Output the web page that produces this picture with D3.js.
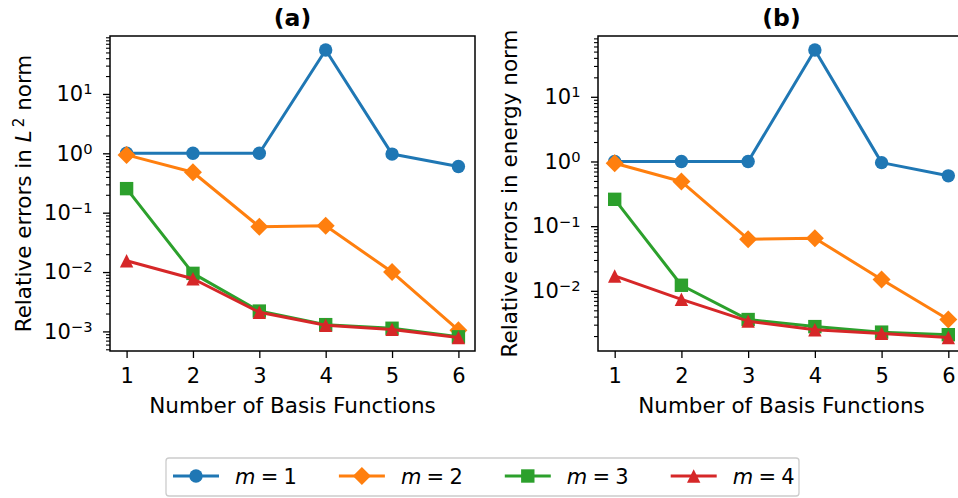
<!DOCTYPE html>
<html>
<head>
<meta charset="utf-8">
<script src="https://cdn.jsdelivr.net/npm/d3@7"></script>
<style>
  body { margin: 0; background: #fff; }
  svg { display: block; font-family: "DejaVu Sans", sans-serif; }
</style>
</head>
<body>
<div id="chart"></div>
<script>
// number of basis functions on the x axis
const basisCounts = [1, 2, 3, 4, 5, 6];

const seriesNames = ["m = 1", "m = 2", "m = 3", "m = 4"];
const seriesColors = ["#1f77b4", "#ff7f0e", "#2ca02c", "#d62728"];
const seriesMarkers = ["circle", "diamond", "square", "triangle"];

// (a) relative errors in L2 norm
const l2M1 = [1.0, 1.0, 1.0, 55, 0.97, 0.6];
const l2M2 = [0.94, 0.48, 0.058, 0.06, 0.01, 0.00105];
const l2M3 = [0.254, 0.0095, 0.0022, 0.0013, 0.00113, 0.00081];
const l2M4 = [0.0155, 0.0077, 0.0021, 0.00127, 0.00108, 0.00079];

// (b) relative errors in energy norm
const enM1 = [1.0, 1.0, 1.0, 53, 0.96, 0.6];
const enM2 = [0.94, 0.49, 0.063, 0.065, 0.015, 0.0036];
const enM3 = [0.26, 0.0122, 0.0036, 0.0028, 0.0023, 0.0021];
const enM4 = [0.017, 0.0074, 0.0034, 0.0025, 0.0022, 0.0019];

const width = 958, height = 498;
const fontSize = 21;

const svg = d3.select('#chart').append('svg')
    .attr('width', width)
    .attr('height', height);

// marker shapes, close to matplotlib's o, D, s, ^
const ms = 13.4;
function markerPath(kind) {
    const h = ms / 2;
    if (kind === 'circle') return d3.symbol(d3.symbolCircle, Math.PI * h * h)();
    if (kind === 'square') return `M${-h},${-h}H${h}V${h}H${-h}Z`;
    if (kind === 'diamond') {
        const d = h * Math.SQRT2 * 0.95;
        return `M0,${-d}L${d},0L0,${d}L${-d},0Z`;
    }
    return `M0,${-h}L${h},${h}L${-h},${h}Z`;
}

function supLabel(sel, exp) {
    sel.text(null);
    sel.append('tspan').text('10');
    sel.append('tspan')
        .attr('font-size', fontSize * 0.7)
        .attr('dy', -6.8)
        .text(exp < 0 ? '\u2212' + (-exp) : exp);
}

function drawPanel(opts) {
    const {left, right, top, bottom, yDomain, series, title, yLabel, yLabelX} = opts;

    const x = d3.scaleLinear().domain([0.75, 6.25]).range([left, right]);
    const y = d3.scaleLog().domain(yDomain).range([bottom, top]);

    const g = svg.append('g');

    // log ticks: majors at decades, minors at 2..9
    const kLo = Math.floor(Math.log10(yDomain[0])), kHi = Math.ceil(Math.log10(yDomain[1]));
    const majors = [], minors = [];
    for (let k = kLo; k <= kHi; k++) {
        for (let m = 1; m <= 9; m++) {
            const v = m * Math.pow(10, k);
            if (v < yDomain[0] || v > yDomain[1]) continue;
            (m === 1 ? majors : minors).push(v);
        }
    }

    const yMinor = g.append('g')
        .attr('transform', `translate(${left},0)`)
        .call(d3.axisLeft(y).tickValues(minors).tickSize(4).tickFormat(''));
    yMinor.select('.domain').remove();
    yMinor.selectAll('line').attr('stroke-width', 1.1);

    const yMajor = g.append('g')
        .attr('transform', `translate(${left},0)`)
        .call(d3.axisLeft(y).tickValues(majors).tickSize(7).tickPadding(10.5));
    yMajor.select('.domain').remove();
    yMajor.selectAll('line').attr('stroke-width', 1.3);
    yMajor.selectAll('text')
        .attr('font-size', fontSize)
        .attr('font-family', '"DejaVu Sans", sans-serif')
        .attr('fill', '#000')
        .each(function(d) { supLabel(d3.select(this), Math.round(Math.log10(d))); });

    const xAxis = g.append('g')
        .attr('transform', `translate(0,${bottom})`)
        .call(d3.axisBottom(x).tickValues(basisCounts).tickSize(7).tickPadding(10.5).tickFormat(d3.format('d')));
    xAxis.select('.domain').remove();
    xAxis.selectAll('line').attr('stroke-width', 1.3);
    xAxis.selectAll('text')
        .attr('font-size', fontSize)
        .attr('font-family', '"DejaVu Sans", sans-serif')
        .attr('fill', '#000');

    // series
    const line = d3.line().x((d, i) => x(basisCounts[i])).y(d => y(d));
    series.forEach((vals, si) => {
        const sg = g.append('g');
        sg.append('path')
            .datum(vals)
            .attr('d', line)
            .attr('fill', 'none')
            .attr('stroke', seriesColors[si])
            .attr('stroke-width', 3)
            .attr('stroke-linejoin', 'round');
        sg.selectAll('path.mk')
            .data(vals)
            .join('path')
            .attr('class', 'mk')
            .attr('transform', (d, i) => `translate(${x(basisCounts[i])},${y(d)})`)
            .attr('d', markerPath(seriesMarkers[si]))
            .attr('fill', seriesColors[si]);
    });

    // frame
    g.append('rect')
        .attr('x', left).attr('y', top)
        .attr('width', right - left).attr('height', bottom - top)
        .attr('fill', 'none')
        .attr('stroke', '#000')
        .attr('stroke-width', 1.5);

    g.append('text')
        .attr('x', (left + right) / 2)
        .attr('y', 26)
        .attr('text-anchor', 'middle')
        .attr('font-size', 23.5)
        .attr('font-weight', 'bold')
        .text(title);

    g.append('text')
        .attr('x', (left + right) / 2)
        .attr('y', 413)
        .attr('text-anchor', 'middle')
        .attr('font-size', 21.5)
        .text('Number of Basis Functions');

    const yl = g.append('text')
        .attr('transform', `translate(${yLabelX},${(top + bottom) / 2}) rotate(-90)`)
        .attr('text-anchor', 'middle')
        .attr('font-size', 21.5);
    yLabel(yl);
}

drawPanel({
    left: 110, right: 475, top: 36, bottom: 351,
    yDomain: [Math.pow(10, -3.33), Math.pow(10, 1.976)],
    series: [l2M1, l2M2, l2M3, l2M4],
    title: '(a)',
    yLabelX: 30.5,
    yLabel: t => {
        t.append('tspan').text('Relative errors in ');
        t.append('tspan').attr('font-style', 'italic').text('L');
        t.append('tspan').attr('font-size', 21.5 * 0.7).attr('dy', -7).attr('dx', 3).text('2');
        t.append('tspan').attr('dy', 7).text(' norm');
    }
});

drawPanel({
    left: 598, right: 965, top: 36, bottom: 351,
    yDomain: [Math.pow(10, -2.93), Math.pow(10, 1.94)],
    series: [enM1, enM2, enM3, enM4],
    title: '(b)',
    yLabelX: 517,
    yLabel: t => t.text('Relative errors in energy norm')
});

// legend
const legend = svg.append('g');
legend.append('rect')
    .attr('x', 166).attr('y', 458)
    .attr('width', 633).attr('height', 38)
    .attr('rx', 3)
    .attr('fill', '#fff')
    .attr('stroke', '#cccccc')
    .attr('stroke-width', 1.3);

seriesNames.forEach((name, i) => {
    const x0 = 173 + i * 165.9, cy = 476;
    const lg = legend.append('g');
    lg.append('line')
        .attr('x1', x0).attr('x2', x0 + 46)
        .attr('y1', cy).attr('y2', cy)
        .attr('stroke', seriesColors[i])
        .attr('stroke-width', 3);
    lg.append('path')
        .attr('transform', `translate(${x0 + 23},${cy})`)
        .attr('d', markerPath(seriesMarkers[i]))
        .attr('fill', seriesColors[i]);
    const parts = name.split(' = ');
    const t = lg.append('text')
        .attr('x', x0 + 62)
        .attr('y', cy + 7.5)
        .attr('font-size', fontSize);
    t.append('tspan').attr('font-style', 'italic').text(parts[0]);
    t.append('tspan').text('\u2005=\u2005' + parts[1]);
});
</script>
</body>
</html>
